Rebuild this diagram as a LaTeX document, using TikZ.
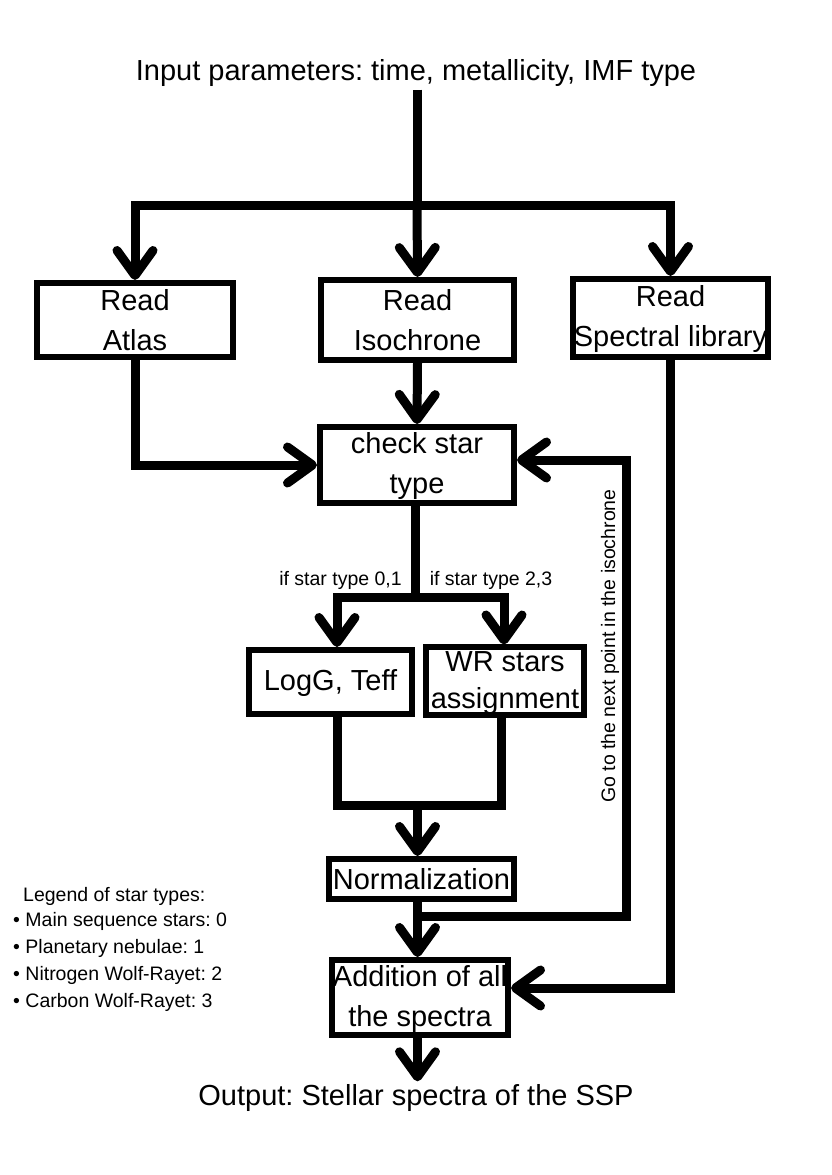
\documentclass[tikz,border=0pt]{standalone}
\usepackage{fontspec}
\setmainfont{Liberation Sans}
\usetikzlibrary{arrows.meta}
\newcommand\bxs{\rule[-3.2pt]{0pt}{27.2pt}}
\begin{document}
\frenchspacing
\begin{tikzpicture}[x=1pt,y=-1pt,
  box/.style={draw,line width=6pt,inner sep=0pt,align=center,font=\fontsize{29}{40}\selectfont},
  big/.style={inner sep=3pt,font=\fontsize{29}{35}\selectfont},
  small/.style={inner sep=0pt,font=\fontsize{19.5}{24}\selectfont},
  conn/.style={line width=9pt},
  arr/.style={conn,-{Straight Barb[length=25pt,width=36pt,round]}}]
\path[use as bounding box,fill=white] (0,0) rectangle (831,1175);

% nodes
\node[big] (title) at (416,73) {Input parameters: time, metallicity, IMF type};
\node[box,minimum width=196pt,minimum height=74pt] (atlas) at (135,320) {\bxs Read\\\bxs Atlas};
\node[box,minimum width=193pt,minimum height=80pt] (iso) at (417.5,320) {\bxs Read\\\bxs Isochrone};
\node[box,minimum width=195pt,minimum height=78pt] (spec) at (670.5,318) {\bxs Read\\\bxs Spectral library};
\node[box,minimum width=194pt,minimum height=76pt] (check) at (417,465) {\bxs check star\\\bxs type};
\node[box,minimum width=163pt,minimum height=64pt] (logg) at (330.5,682) {\bxs LogG, Teff};
\node[box,minimum width=158pt,minimum height=64pt] (wr) at (505,681) {\bxs WR stars\\[-3pt]\bxs assignment};
\node[box,minimum width=185pt,minimum height=40pt] (norm) at (421.5,879) {\bxs Normalization};
\node[box,minimum width=176pt,minimum height=75pt] (add) at (420,997.5) {\bxs Addition of all\\\bxs the spectra};
\node[big] (out) at (416,1098) {Output: Stellar spectra of the SSP};

\node[small] (lab1) at (340.5,580) {if star type 0,1};
\node[small] (lab2) at (491,580) {if star type 2,3};
\node[small,rotate=90] (golab) at (610,646) {Go to the next point in the isochrone};

\node[small,anchor=west] (leg) at (23,896) {Legend of star types:};
\node[small,anchor=west] (l1) at (13,921) {\textbullet\ Main sequence stars: 0};
\node[small,anchor=west] (l2) at (13,948) {\textbullet\ Planetary nebulae: 1};
\node[small,anchor=west] (l3) at (13,975) {\textbullet\ Nitrogen Wolf-Rayet: 2};
\node[small,anchor=west] (l4) at (13,1002) {\textbullet\ Carbon Wolf-Rayet: 3};

% coordinates
\coordinate (j1) at (417,205);
\coordinate (split) at (415,597);
\coordinate (sl) at (337,597);
\coordinate (sr) at (504,597);
\coordinate (jl) at (337.5,805);
\coordinate (jr) at (501.5,805);
\coordinate (jm) at (417.5,805);
\coordinate (fbj) at (417.5,916);
\coordinate (fbc1) at (626,916);
\coordinate (fbc2) at (626,460);
\coordinate (spc) at (670,988);

% connectors
\draw[conn] (title.south -| j1) -- (j1);
\draw[arr] (j1) -| (atlas.north);
\draw[arr] (j1) -- (iso.north);
\draw[arr] (j1) -| (spec.north);
\draw[arr] (iso.south) -- (check.north);
\draw[arr] (atlas.south) |- (check.west);
\draw[conn] (check.south -| split) -- (split);
\draw[arr] (split) -- (sl) -- (logg.north -| sl);
\draw[arr] (split) -- (sr) -- (wr.north -| sr);
\draw[conn] (logg.south -| jl) -- (jl) -- (jr) -- (wr.south -| jr);
\draw[arr] (jm) -- (norm.north -| jm);
\draw[arr] (norm.south -| fbj) -- (add.north -| fbj);
\draw[arr] (fbj) -- (fbc1) -- (fbc2) -- (check.east |- fbc2);
\draw[arr] (spec.south -| spc) -- (spc) -- (add.east |- spc);
\draw[arr] (add.south -| fbj) -- (out.north -| fbj);
\end{tikzpicture}
\end{document}
